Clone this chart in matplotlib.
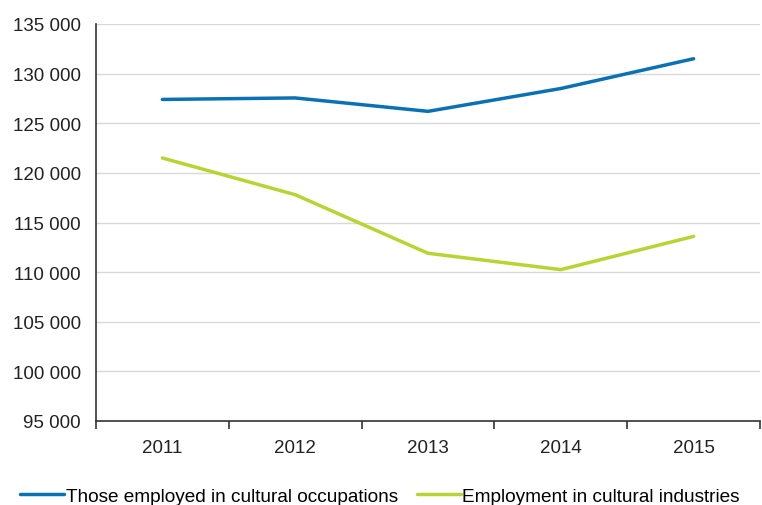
import matplotlib.pyplot as plt
from matplotlib.ticker import FuncFormatter, FixedLocator

plt.rcParams['font.family'] = ['Liberation Sans', 'DejaVu Sans']

years = ['2011', '2012', '2013', '2014', '2015']
occupations = [127400, 127550, 126200, 128500, 131500]
industries = [121500, 117800, 111900, 110250, 113600]

fig = plt.figure(figsize=(7.62, 5.06), dpi=100)
ax = fig.add_axes([96 / 762, 1 - 422 / 506, (760 - 96) / 762, (422 - 25) / 506])

x = range(len(years))
ax.plot(x, occupations, color='#0a72b4', linewidth=2.5, solid_capstyle='round',
        label='Those employed in cultural occupations')
ax.plot(x, industries, color='#b7d433', linewidth=2.5, solid_capstyle='round',
        label='Employment in cultural industries')

ax.set_xlim(-0.5, len(years) - 0.5)
ax.set_ylim(95000, 135000)
ax.set_yticks(range(95000, 135001, 5000))
ax.yaxis.set_major_formatter(FuncFormatter(lambda v, p: f'{int(v):,}'.replace(',', ' ')))
ax.tick_params(axis='y', length=0, labelsize=13.5, pad=11, colors='#222222')

ax.xaxis.set_major_locator(FixedLocator([i - 0.5 for i in range(len(years) + 1)]))
ax.xaxis.set_minor_locator(FixedLocator(list(x)))
ax.xaxis.set_major_formatter(FuncFormatter(lambda v, p: ''))
ax.set_xticklabels(years, minor=True)
ax.tick_params(axis='x', which='major', length=6, width=1.2, direction='out', color='#333333')
ax.tick_params(axis='x', which='minor', length=0, labelsize=13.5, pad=13, colors='#222222')

ax.grid(axis='y', color='#d9d9d9', linewidth=1)
ax.set_axisbelow(True)
for side in ['top', 'right']:
    ax.spines[side].set_visible(False)
for side in ['left', 'bottom']:
    ax.spines[side].set_color('#333333')
    ax.spines[side].set_linewidth(1.2)

fig.legend(loc='center left', bbox_to_anchor=(20 / 762, 1 - 497 / 506), ncol=2, frameon=False,
           fontsize=13.7, handlelength=2.3, handletextpad=0.1, columnspacing=1.0,
           borderpad=0, borderaxespad=0)

plt.savefig('out.png', dpi=100)
